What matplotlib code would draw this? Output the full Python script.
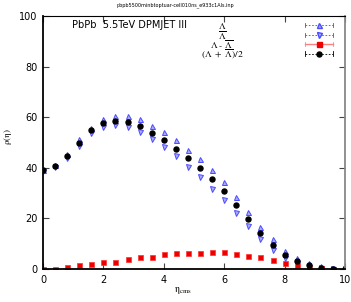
import numpy as np
import matplotlib.pyplot as plt
from matplotlib.lines import Line2D

plt.rcParams['mathtext.fontset'] = 'stix'

eta = [0.0, 0.4, 0.8, 1.2, 1.6, 2.0, 2.4, 2.8, 3.2, 3.6, 4.0, 4.4, 4.8,
       5.2, 5.6, 6.0, 6.4, 6.8, 7.2, 7.6, 8.0, 8.4, 8.8, 9.2, 9.6, 10.0]
lam = [39.3, 41.0, 45.5, 51.2, 55.9, 59.2, 60.4, 60.3, 59.1, 56.6, 54.0, 51.0, 47.2,
       43.3, 39.1, 34.2, 28.4, 22.5, 16.7, 11.7, 7.2, 4.3, 2.2, 1.0, 0.3, 0.0]
alam = [38.9, 40.4, 44.0, 48.8, 53.7, 56.2, 57.1, 56.0, 54.0, 51.4, 48.2, 44.5, 40.4,
        36.4, 31.8, 27.2, 22.2, 17.0, 12.0, 7.5, 4.3, 2.4, 0.9, 0.3, 0.0, 0.0]
diff = [0.1, 0.0, 0.7, 1.7, 1.8, 2.6, 2.9, 3.8, 4.6, 4.7, 5.8, 6.2, 6.3,
        6.3, 6.8, 6.7, 5.9, 5.3, 4.6, 3.7, 2.5, 1.7, 0.9, 0.3, 0.0, 0.0]
avg = [39.1, 40.7, 44.7, 50.0, 54.9, 57.6, 58.4, 58.0, 56.4, 53.8, 51.0, 47.6, 43.8,
       39.9, 35.4, 30.8, 25.3, 19.7, 14.3, 9.5, 5.7, 3.2, 1.6, 0.5, 0.0, 0.0]

labels = [r'$\mathrm{\Lambda}$', r'$\mathrm{\overline{\Lambda}}$',
          r'$\mathrm{\Lambda\ \text{-}\ \overline{\Lambda}}$',
          r'$\mathrm{(\Lambda\ +\ \overline{\Lambda})/2}$']

W, H = 351, 302
fig = plt.figure(figsize=(W / 100, H / 100), dpi=100)
ax = fig.add_axes([43 / W, 1 - 269 / H, (345 - 43) / W, (269 - 16) / H])

blue_e = '#4a4aff'
blue_f = '#a8a8ff'
ms = 3.6
ax.plot(eta, lam, ls='none', marker='^', ms=ms, mec=blue_e, mfc=blue_f, mew=0.7)
ax.plot(eta, alam, ls='none', marker='v', ms=ms, mec=blue_e, mfc=blue_f, mew=0.7)
ax.plot(eta, diff, ls='none', marker='s', ms=ms, mec='#ff3030', mfc='#ee0000', mew=0.5)
ax.plot(eta, avg, ls='none', marker='o', ms=ms, mec='black', mfc='black')
ax.axhline(0, color='#999999', ls=(0, (1, 1.5)), lw=0.8, zorder=0)

ax.set_xlim(0, 10)
ax.set_ylim(0, 100)
ax.set_xticks([0, 2, 4, 6, 8, 10])
ax.set_yticks([0, 20, 40, 60, 80, 100])
ax.tick_params(direction='in', length=4, labelsize=7, top=True, right=True,
               pad=4, color='#444444')
for s in ['left', 'bottom']:
    ax.spines[s].set_linewidth(1.3)
ax.spines['top'].set_linewidth(0.8)
ax.spines['right'].set_color('#888888')
ax.spines['right'].set_linewidth(1.3)

fig.text(183 / W, 1 - 291 / H, r'$\mathrm{\eta_{cms}}$', ha='center', va='center', fontsize=7)
fig.text(8 / W, 1 - 137 / H, r'$\mathrm{\rho(\eta)}$', ha='center', va='center',
         fontsize=6.5, rotation=90)
fig.text(0.5, 1 - 5 / H, 'pbpb5500minbtoptuar-cell010ns_e933c1Als.inp',
         ha='center', va='center', fontsize=3.5)
fig.text(72 / W, 1 - 25 / H, 'PbPb  5.5TeV DPMJET III', ha='left', va='center', fontsize=7)

# manual legend: labels centred, handles on the right
rows = [25, 34.5, 44, 53.5]
styles = [dict(color=blue_e, ls=(0, (2, 2)), lw=0.6, marker='^', mec=blue_e, mfc=blue_f),
          dict(color=blue_e, ls=(0, (2, 2)), lw=0.6, marker='v', mec=blue_e, mfc=blue_f),
          dict(color='#ff8080', ls='-', lw=1.0, marker='s', mec='#ee0000', mfc='#ee0000'),
          dict(color='black', ls=(0, (2, 2)), lw=0.6, marker='o', mec='black', mfc='black')]
for yy, lab, st in zip(rows, labels, styles):
    yf = 1 - yy / H
    fig.text(222 / W, yf - 1 / H, lab, ha='center', va='center', fontsize=6.8)
    fig.add_artist(Line2D([305 / W, 333 / W], [yf, yf], transform=fig.transFigure,
                          color=st['color'], ls=st['ls'], lw=st['lw']))
    fig.add_artist(Line2D([319 / W], [yf], transform=fig.transFigure, ls='none',
                          marker=st['marker'], ms=ms, mec=st['mec'], mfc=st['mfc']))
    for xe in (305, 333):
        fig.add_artist(Line2D([xe / W, xe / W], [yf - 2 / H, yf + 2 / H],
                              transform=fig.transFigure, color=st['color'], lw=0.6))

fig.savefig('out.png', dpi=100)
